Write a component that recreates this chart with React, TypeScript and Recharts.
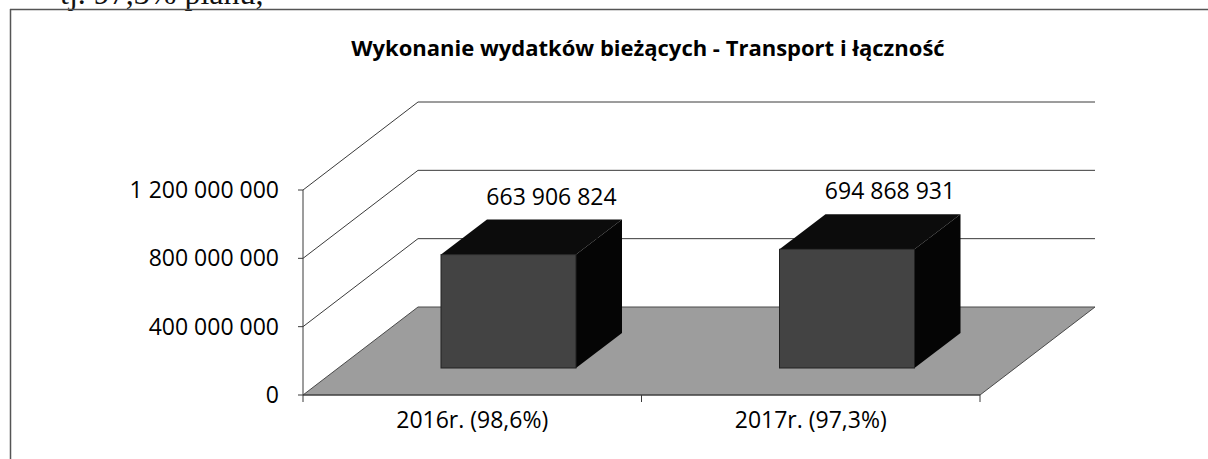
import React from 'react';
import { BarChart, Bar, XAxis, YAxis, CartesianGrid, LabelList } from 'recharts';

const categories = ['2016r. (98,6%)', '2017r. (97,3%)'];
const wydatki = [663906824, 694868931];
const yTicks = [0, 400000000, 800000000, 1200000000];

const data = categories.map((name, i) => ({ name, value: wydatki[i] }));

// uklad wykresu
const W = 1208;
const H = 459;
const MARGIN = { top: 190, right: 228, bottom: 14, left: 83 };
const Y_AXIS_W = 220;
const X_AXIS_H = 50;
const PLOT_BOTTOM = H - MARGIN.bottom - X_AXIS_H;

// perspektywa 3D
const WALL_DX = 115;
const WALL_DY = -88;
const BAR_DX = 36;
const BAR_DY = -27;
const TOP_DX = 46;
const TOP_DY = -35;

const FONT = '"Open Sans", sans-serif';
const LINE = '#3a3a3a';

const fmt = (v: number) => String(v).replace(/\B(?=(\d{3})+(?!\d))/g, ' ');

const GridLine = (props: any) => {
  const { x1, y1, x2 } = props;
  if (y1 >= PLOT_BOTTOM - 1) {
    return (
      <polygon
        points={`${x1},${y1} ${x2},${y1} ${x2 + WALL_DX},${y1 + WALL_DY} ${x1 + WALL_DX},${y1 + WALL_DY}`}
        fill="#9d9d9d"
        stroke="#4a4a4a"
        strokeWidth={1}
      />
    );
  }
  return (
    <polyline
      points={`${x1},${y1} ${x1 + WALL_DX},${y1 + WALL_DY} ${x2 + WALL_DX},${y1 + WALL_DY}`}
      fill="none"
      stroke={LINE}
      strokeWidth={1}
    />
  );
};

const Box3D = (props: any) => {
  const { x, y, width, height } = props;
  const fx = x + BAR_DX;
  const fy = y + BAR_DY;
  return (
    <g>
      <polygon
        points={`${fx},${fy} ${fx + TOP_DX},${fy + TOP_DY} ${fx + width + TOP_DX},${fy + TOP_DY} ${fx + width},${fy}`}
        fill="#0c0c0c"
      />
      <polygon
        points={`${fx + width},${fy} ${fx + width + TOP_DX},${fy + TOP_DY} ${fx + width + TOP_DX},${fy + height + TOP_DY} ${fx + width},${fy + height}`}
        fill="#050505"
      />
      <rect x={fx} y={fy} width={width} height={height} fill="#434343" stroke="#222" strokeWidth={1} />
    </g>
  );
};

const ValueLabel = (props: any) => {
  const { x, y, width, value } = props;
  return (
    <text
      x={x + width / 2 + BAR_DX + TOP_DX - 3}
      y={y + BAR_DY + TOP_DY - 15}
      textAnchor="middle"
      fontFamily={FONT}
      fontSize={23}
      fill="#000"
    >
      {fmt(value)}
    </text>
  );
};

const CategoryTick = (props: any) => {
  const { x, y, payload, index } = props;
  const half = payload.offset || (W - MARGIN.left - Y_AXIS_W - MARGIN.right) / categories.length / 2;
  return (
    <g>
      <line x1={x - half} y1={PLOT_BOTTOM} x2={x - half} y2={PLOT_BOTTOM + 7} stroke={LINE} />
      {index === categories.length - 1 && (
        <line x1={x + half} y1={PLOT_BOTTOM} x2={x + half} y2={PLOT_BOTTOM + 7} stroke={LINE} />
      )}
      <text x={x} y={y} dy="0.71em" textAnchor="middle" fontFamily={FONT} fontSize={23} fill="#000">
        {payload.value}
      </text>
    </g>
  );
};

const App: React.FC = () => {
  return (
    <div style={{ position: 'absolute', left: 0, top: 0, width: W, height: H, overflow: 'hidden', background: '#fff' }}>
      <svg width={W} height={H} style={{ position: 'absolute', left: 0, top: 0 }}>
        <text x={60} y={4} fontFamily='"Liberation Serif", serif' fontSize={32} fill="#111">
          tj. 97,3% planu,
        </text>
        <line x1={10} y1={9.5} x2={W} y2={9.5} stroke="#555" strokeWidth={1.5} />
        <line x1={10.5} y1={9} x2={10.5} y2={H} stroke="#555" strokeWidth={1.5} />
        <text x={648} y={56} textAnchor="middle" fontFamily={FONT} fontWeight="bold" fontSize={22} fill="#000">
          Wykonanie wydatków bieżących - Transport i łączność
        </text>
      </svg>
      <div style={{ position: 'absolute', left: 0, top: 0 }}>
        <BarChart width={W} height={H} data={data} margin={MARGIN} barSize={135}>
          <CartesianGrid vertical={false} horizontal={GridLine} />
          <XAxis
            dataKey="name"
            height={X_AXIS_H}
            axisLine={{ stroke: LINE }}
            tickLine={false}
            tickSize={6}
            tickMargin={11}
            tick={CategoryTick}
            interval={0}
          />
          <YAxis
            width={Y_AXIS_W}
            domain={[0, 1200000000]}
            ticks={yTicks}
            tickFormatter={fmt}
            axisLine={{ stroke: LINE }}
            tickLine={{ stroke: LINE }}
            tickSize={5}
            tickMargin={19}
            tick={{ fontFamily: FONT, fontSize: 23, fill: '#000' }}
          />
          <Bar dataKey="value" shape={Box3D} isAnimationActive={false}>
            <LabelList dataKey="value" content={ValueLabel} />
          </Bar>
        </BarChart>
      </div>
    </div>
  );
};

export default App;
